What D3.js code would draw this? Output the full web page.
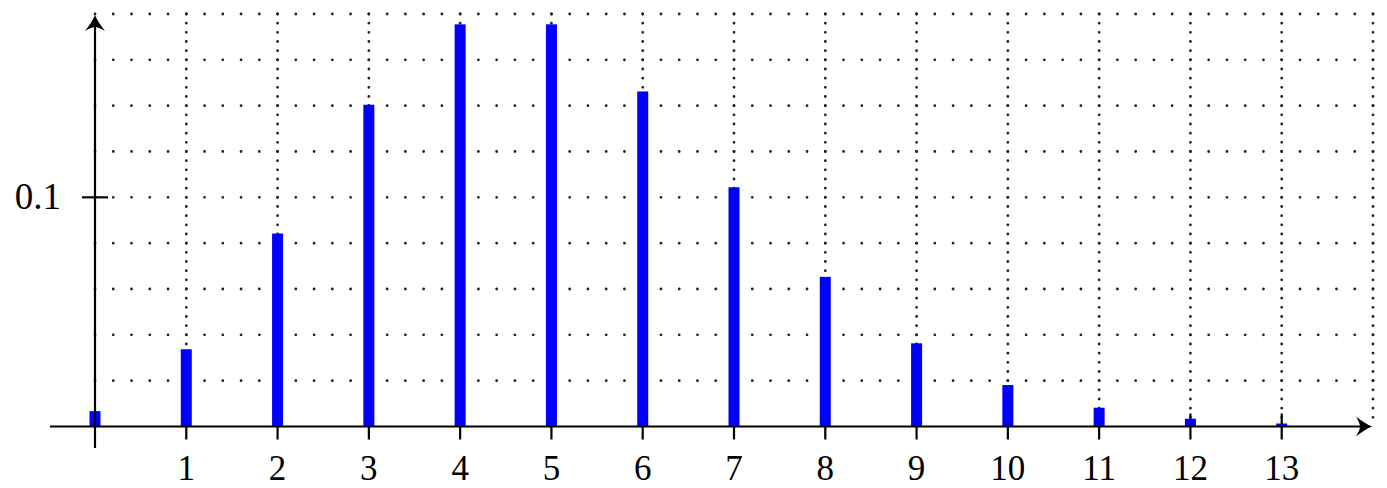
<!DOCTYPE html>
<html>
<head>
<meta charset="utf-8">
<script src="https://cdn.jsdelivr.net/npm/d3@7"></script>
<style>
html,body{margin:0;padding:0;background:#fff;}
svg{display:block;}
text{font-family:"Liberation Serif","Times New Roman",serif;fill:#000;}
</style>
</head>
<body>
<svg id="chart" width="1387" height="488"></svg>
<script>
const categories = [0,1,2,3,4,5,6,7,8,9,10,11,12,13];
const probabilities = [0.0067,0.0337,0.0842,0.1404,0.1755,0.1755,0.1462,0.1044,0.0653,0.0363,0.0181,0.0082,0.0034,0.0013];
const xTickValues = [1,2,3,4,5,6,7,8,9,10,11,12,13];
const yTickValues = [0.1];
const yTickLabels = ["0.1"];
const xGridValues = [1,2,3,4,5,6,7,8,9,10,11,12,13,14];
const yGridValues = [0.02,0.04,0.06,0.08,0.1,0.12,0.14,0.16,0.18];

const svg = d3.select("#chart");
const x = d3.scaleLinear().domain([0,14]).range([95,1373]);
const y = d3.scaleLinear().domain([0,0.18]).range([426.5,14]);

const hSpacing = x(0.2)-x(0);
const vSpacing = y(0)-y(0.004);

// horizontal dotted grid
svg.append("g").selectAll("line").data(yGridValues).join("line")
  .attr("x1", x(0)).attr("x2", x(14)+0.5)
  .attr("y1", d=>y(d)).attr("y2", d=>y(d))
  .attr("stroke","#222").attr("stroke-width",2.8)
  .attr("stroke-linecap","round")
  .attr("stroke-dasharray",`0 ${hSpacing}`);

// vertical dotted grid
svg.append("g").selectAll("line").data(xGridValues).join("line")
  .attr("x1", d=>x(d)).attr("x2", d=>x(d))
  .attr("y1", y(0.18)).attr("y2", y(0))
  .attr("stroke","#222").attr("stroke-width",2.8)
  .attr("stroke-linecap","round")
  .attr("stroke-dasharray",`0 ${vSpacing}`);

// x ticks
svg.append("g").selectAll("line").data(xTickValues).join("line")
  .attr("x1", d=>x(d)).attr("x2", d=>x(d))
  .attr("y1", y(0)-13).attr("y2", y(0)+13)
  .attr("stroke","#000").attr("stroke-width",2.2);

// bars
const bw = 11;
svg.append("g").selectAll("rect").data(categories).join("rect")
  .attr("x", (d)=>x(d)-bw/2)
  .attr("y", (d,i)=>y(probabilities[i]))
  .attr("width", bw)
  .attr("height", (d,i)=>y(0)-y(probabilities[i]))
  .attr("fill","#0000ff");

// y tick
svg.append("g").selectAll("line").data(yTickValues).join("line")
  .attr("x1", x(0)-13).attr("x2", x(0)+13)
  .attr("y1", d=>y(d)).attr("y2", d=>y(d))
  .attr("stroke","#000").attr("stroke-width",2.2);

// axes
svg.append("line").attr("x1",50).attr("x2",x(14)-4)
  .attr("y1",y(0)).attr("y2",y(0)).attr("stroke","#000").attr("stroke-width",2.2);
svg.append("line").attr("x1",x(0)).attr("x2",x(0))
  .attr("y1",448).attr("y2",y(0.18)+4).attr("stroke","#000").attr("stroke-width",2.2);

// arrowheads
function arrow(tx,ty,angle){
  const p = "M0,0 C-5,-2 -11,-6 -16,-10 C-13,-5 -12,-2 -12,0 C-12,2 -13,5 -16,10 C-11,6 -5,2 0,0 Z";
  svg.append("path").attr("d",p)
    .attr("transform",`translate(${tx},${ty}) rotate(${angle})`)
    .attr("fill","#000");
}
arrow(x(14)-1, y(0), 0);
arrow(x(0), y(0.18)+1, -90);

// x labels
svg.append("g").selectAll("text").data(xTickValues).join("text")
  .attr("x", d=>x(d)).attr("y", 480)
  .attr("text-anchor","middle")
  .attr("font-size",35)
  .text(d=>d);

// y labels
svg.append("g").selectAll("text").data(yTickValues).join("text")
  .attr("x", 61).attr("y", d=>y(d)+12)
  .attr("text-anchor","end")
  .attr("font-size",37)
  .text((d,i)=>yTickLabels[i]);
</script>
</body>
</html>
